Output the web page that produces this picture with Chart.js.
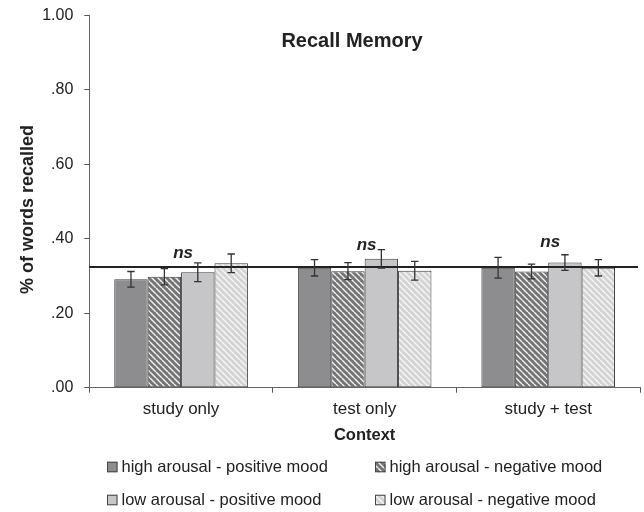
<!DOCTYPE html>
<html>
<head>
<meta charset="utf-8">
<script src="https://cdn.jsdelivr.net/npm/chart.js@4.4.1/dist/chart.umd.min.js"></script>
<style>
  html, body { margin: 0; padding: 0; background: #fff; }
  #wrap { width: 644px; height: 512px; }
</style>
</head>
<body>
<div id="wrap"><canvas id="c" width="644" height="512"></canvas></div>
<script>
// Recall memory by context and mood/arousal condition
const categories = ['study only', 'test only', 'study + test'];
const seriesNames = [
  'high arousal - positive mood',
  'high arousal - negative mood',
  'low arousal - positive mood',
  'low arousal - negative mood'
];
const highPositive = [0.291, 0.322, 0.322];
const highNegative = [0.298, 0.313, 0.312];
const lowPositive  = [0.310, 0.346, 0.336];
const lowNegative  = [0.334, 0.314, 0.322];
const highPositiveErr = [0.021, 0.022, 0.028];
const highNegativeErr = [0.022, 0.023, 0.020];
const lowPositiveErr  = [0.025, 0.025, 0.021];
const lowNegativeErr  = [0.025, 0.025, 0.022];
const overallMean = 0.324;
const nsLabels = ['ns', 'ns', 'ns'];
const nsLevels = [0.362, 0.383, 0.391];
const yTickLabels = ['.00', '.20', '.40', '.60', '.80', '1.00'];

const FONT = '"Liberation Sans", Arial, Helvetica, sans-serif';

// diagonal white-striped fill
function hatch(base, stripe) {
  const s = 6;
  const c = document.createElement('canvas');
  c.width = s; c.height = s;
  const g = c.getContext('2d');
  g.fillStyle = base;
  g.fillRect(0, 0, s, s);
  g.strokeStyle = stripe;
  g.lineWidth = 1.4;
  g.beginPath();
  for (let k = -1; k <= 1; k++) {
    g.moveTo(k * s, 0);
    g.lineTo(k * s + s, s);
  }
  g.stroke();
  return g.createPattern(c, 'repeat');
}

const fills = [
  '#8d8d8f',
  hatch('#747474', '#f2f2f2'),
  '#c6c6c8',
  hatch('#d4d4d4', '#f6f6f6')
];
const means = [highPositive, highNegative, lowPositive, lowNegative];
const errors = [highPositiveErr, highNegativeErr, lowPositiveErr, lowNegativeErr];

const overlay = {
  id: 'overlay',
  afterDatasetsDraw(chart) {
    const { ctx, chartArea: a, scales: { x, y } } = chart;
    ctx.save();
    // overall mean line
    const yl = y.getPixelForValue(overallMean);
    ctx.strokeStyle = '#222';
    ctx.lineWidth = 2;
    ctx.beginPath();
    ctx.moveTo(a.left, yl);
    ctx.lineTo(a.right - 2, yl);
    ctx.stroke();
    // error bars
    ctx.strokeStyle = '#333';
    ctx.lineWidth = 1.3;
    errors.forEach((err, i) => {
      const meta = chart.getDatasetMeta(i);
      meta.data.forEach((bar, j) => {
        const m = means[i][j];
        const t = y.getPixelForValue(m + err[j]);
        const b = y.getPixelForValue(m - err[j]);
        const cx = bar.x;
        ctx.beginPath();
        ctx.moveTo(cx, t); ctx.lineTo(cx, b);
        ctx.moveTo(cx - 3.7, t); ctx.lineTo(cx + 3.7, t);
        ctx.moveTo(cx - 3.7, b); ctx.lineTo(cx + 3.7, b);
        ctx.stroke();
      });
    });
    // non-significance labels
    ctx.fillStyle = '#222';
    ctx.font = 'italic bold 17px ' + FONT;
    ctx.textAlign = 'center';
    ctx.textBaseline = 'middle';
    nsLabels.forEach((t, j) => {
      ctx.fillText(t, x.getPixelForValue(j) + 2, y.getPixelForValue(nsLevels[j]));
    });
    ctx.restore();
  },
  afterDraw(chart) {
    const { ctx, chartArea: a } = chart;
    ctx.save();
    ctx.fillStyle = '#222';
    // chart title
    ctx.font = 'bold 20px ' + FONT;
    ctx.textAlign = 'center';
    ctx.textBaseline = 'middle';
    ctx.fillText('Recall Memory', a.left + a.width * 0.477, 41);
    // y-axis title
    ctx.save();
    ctx.translate(33, (a.top + a.bottom) / 2 + 8);
    ctx.rotate(-Math.PI / 2);
    ctx.font = 'bold 18px ' + FONT;
    ctx.textBaseline = 'alphabetic';
    ctx.fillText('% of words recalled', 0, 0);
    ctx.restore();
    // legend, two columns by two rows
    const cols = [107, 375];
    const rows = [467, 500];
    const box = 10.5;
    ctx.font = '16.5px ' + FONT;
    ctx.textAlign = 'left';
    ctx.textBaseline = 'middle';
    seriesNames.forEach((name, i) => {
      const bx = cols[i % 2];
      const cy = rows[Math.floor(i / 2)];
      ctx.fillStyle = fills[i];
      ctx.fillRect(bx, cy - box / 2, box, box);
      ctx.strokeStyle = '#444';
      ctx.lineWidth = 1;
      ctx.strokeRect(bx + 0.5, cy - box / 2 + 0.5, box - 1, box - 1);
      ctx.fillStyle = '#222';
      ctx.fillText(name, bx + box + 4, cy);
    });
    ctx.restore();
  }
};

new Chart(document.getElementById('c'), {
  type: 'bar',
  data: {
    labels: categories,
    datasets: seriesNames.map((name, i) => ({
      label: name,
      data: means[i],
      backgroundColor: fills[i],
      borderColor: '#3c3c3c',
      borderWidth: 1,
      borderSkipped: false,
      categoryPercentage: 0.728,
      barPercentage: 1
    }))
  },
  options: {
    responsive: false,
    animation: false,
    events: [],
    layout: { padding: { left: 0, right: 4, top: 15.3, bottom: 66.8 } },
    plugins: {
      legend: { display: false },
      tooltip: { enabled: false },
      title: { display: false }
    },
    scales: {
      x: {
        grid: { display: true, drawOnChartArea: false, offset: true, color: '#555', tickLength: 5 },
        border: { color: '#666', width: 1 },
        ticks: { color: '#222', font: { size: 17, family: FONT }, padding: 6 },
        title: {
          display: true, text: 'Context', color: '#222',
          font: { size: 16.5, weight: 'bold', family: FONT },
          padding: { top: 0, bottom: 0 }
        },
        afterFit(s) { s.height = 57.5; }
      },
      y: {
        min: 0, max: 1,
        ticks: {
          stepSize: 0.2, padding: 11, color: '#222',
          font: { size: 16, family: FONT },
          callback: (v, i) => yTickLabels[i]
        },
        grid: { drawOnChartArea: false, color: '#555', tickLength: 5 },
        border: { color: '#666', width: 1 },
        afterFit(s) {
          s.width = 89.3;
          s.paddingTop = 0;
          s.paddingBottom = 0;
        }
      }
    }
  },
  plugins: [overlay]
});
</script>
</body>
</html>
